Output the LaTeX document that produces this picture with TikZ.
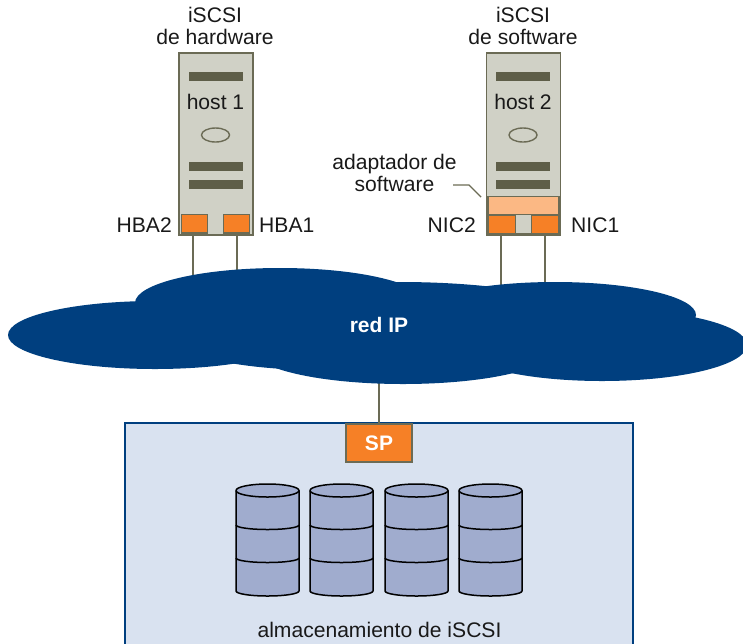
\documentclass[tikz,border=0pt]{standalone}
\usepackage{fontspec}
\setmainfont{Liberation Sans}
\usetikzlibrary{shapes.geometric}
\definecolor{srvfill}{HTML}{D0D1C6}
\definecolor{srvline}{HTML}{6B6B55}
\definecolor{srvbar}{HTML}{5E5E48}
\definecolor{portfill}{HTML}{F68026}
\definecolor{softfill}{HTML}{FBB884}
\definecolor{cloudblue}{HTML}{003F7F}
\definecolor{storefill}{HTML}{D9E2F0}
\definecolor{diskfill}{HTML}{A0ACCE}
\tikzset{
  box/.style={rectangle,inner sep=0pt,outer sep=0pt,anchor=north west},
  server/.style={box,draw=srvline,fill=srvfill,line width=1.8pt,minimum width=74pt,minimum height=182pt},
  srvslot/.style={box,fill=srvbar,minimum width=54pt,minimum height=9pt},
  led/.style={ellipse,draw=srvline,line width=1.4pt,fill=srvfill,minimum width=28pt,minimum height=14pt,inner sep=0pt},
  port/.style={box,draw=srvline,fill=portfill,line width=1.8pt,minimum width=26pt,minimum height=18.5pt},
  softbox/.style={box,fill=softfill,minimum width=69pt,minimum height=17pt},
  wire/.style={draw=srvline,line width=1.4pt},
  puff/.style={ellipse,fill=cloudblue,inner sep=0pt,outer sep=0pt},
  lbl/.style={inner sep=0pt,font=\fontsize{21.1pt}{21.5pt}\selectfont,align=center,text=black!90},
  disk/.style={draw=black,line width=1.5pt,fill=diskfill,line join=round},
}
\begin{document}
\begin{tikzpicture}[x=1pt,y=-1pt]
\useasboundingbox (0,0) rectangle (743,643);
\clip (0,0) rectangle (743,643);
% storage
\node[box,draw=cloudblue,fill=storefill,line width=1.8pt,minimum width=508pt,minimum height=240pt] (store) at (125,423) {};
% hosts
\node[server] (h1) at (179,53) {};
\foreach \yy/\nn in {72/a,162/b,180/c} \node[srvslot] (h1\nn) at (189,\yy) {};
\node[led] (h1led) at (215.5,135) {};
\node[lbl] (h1t) at (215.5,101.5) {host 1};
\node[port] (hba2) at (181.5,214.5) {};
\node[port] (hba1) at (223.5,214.5) {};
\node[lbl] (h1cap) at (215,26) {iSCSI\\de hardware};
\node[lbl,anchor=east] (hba2t) at (172,225) {HBA2};
\node[lbl,anchor=west] (hba1t) at (259,225) {HBA1};
\node[server] (h2) at (486.5,53) {};
\foreach \yy/\nn in {72/a,162/b,180/c} \node[srvslot] (h2\nn) at (496,\yy) {};
\node[led] (h2led) at (523,135) {};
\node[lbl] (h2t) at (523,101.5) {host 2};
\node[box,fill=srvline,minimum width=75.5pt,minimum height=40pt] (band) at (485.7,195.8) {};
\node[box,fill=srvfill,minimum width=15pt,minimum height=18pt] (gap) at (516,215) {};
\node[softbox] (soft) at (489,197) {};
\node[box,fill=portfill,minimum width=26pt,minimum height=17.5pt] (nic2) at (489,215.5) {};
\node[box,fill=portfill,minimum width=26pt,minimum height=17.5pt] (nic1) at (532,215.5) {};
\node[lbl] (h2cap) at (523,26) {iSCSI\\de software};
\node[lbl,anchor=east] (nic2t) at (476,225) {NIC2};
\node[lbl,anchor=west] (nic1t) at (571,225) {NIC1};
\node[lbl] (softt) at (394.5,173) {adaptador de\\software};
\coordinate (softa) at (453,185);
\coordinate (softb) at (469,185);
\coordinate (softc) at (481,197);
\draw[wire] (softa) -- (softb) -- (softc);
% connectors (their lower ends run behind the cloud)
\coordinate (e1) at (193,290);
\coordinate (e2) at (237,290);
\coordinate (e3) at (501,300);
\coordinate (e4) at (545,300);
\coordinate (e5) at (379,370);
\draw[wire] (hba2.south -| e1) -- (e1);
\draw[wire] (hba1.south -| e2) -- (e2);
\draw[wire] (nic2.south -| e3) -- (e3);
\draw[wire] (nic1.south -| e4) -- (e4);
\path (346,424) ++(33,19) coordinate (spc);
\draw[wire] (e5) -- (spc);
% cloud
\node[puff,minimum width=294pt,minimum height=68pt] (c1) at (155,335) {};
\node[puff,minimum width=290pt,minimum height=70pt] (c2) at (280,303) {};
\node[puff,minimum width=400pt,minimum height=86pt] (c3) at (400,325) {};
\node[puff,minimum width=300pt,minimum height=70pt] (c4) at (320,335) {};
\node[puff,minimum width=300pt,minimum height=68pt] (c5) at (403,350) {};
\node[puff,minimum width=282pt,minimum height=66pt] (c6) at (555,315) {};
\node[puff,minimum width=290pt,minimum height=72pt] (c7) at (602,345) {};
\node[inner sep=0pt,text=white,font=\fontsize{21pt}{21pt}\selectfont\bfseries] (net) at (379,325) {red IP};
% SP
\node[box,draw=srvline,fill=portfill,line width=1.5pt,minimum width=66pt,minimum height=38pt,text=white,font=\fontsize{21pt}{21pt}\selectfont\bfseries] (sp) at (346,424) {SP};
% disks
\foreach \xx/\nm in {236/d1,310/d2,385/d3,459/d4}{
  \path[disk] (\xx,490.5) arc[start angle=180,end angle=0,x radius=31.5pt,y radius=6.5pt]
     -- ++(0,100.5) arc[start angle=0,end angle=180,x radius=31.5pt,y radius=-5pt] -- cycle;
  \draw[disk,fill=none] (\xx,490.5) arc[start angle=180,end angle=360,x radius=31.5pt,y radius=6.5pt];
  \draw[disk,fill=none] (\xx,525) arc[start angle=180,end angle=360,x radius=31.5pt,y radius=4.5pt];
  \draw[disk,fill=none] (\xx,558) arc[start angle=180,end angle=360,x radius=31.5pt,y radius=4.5pt];
}
\node[lbl] (storet) at (379.5,630) {almacenamiento de iSCSI};
\end{tikzpicture}
\end{document}
